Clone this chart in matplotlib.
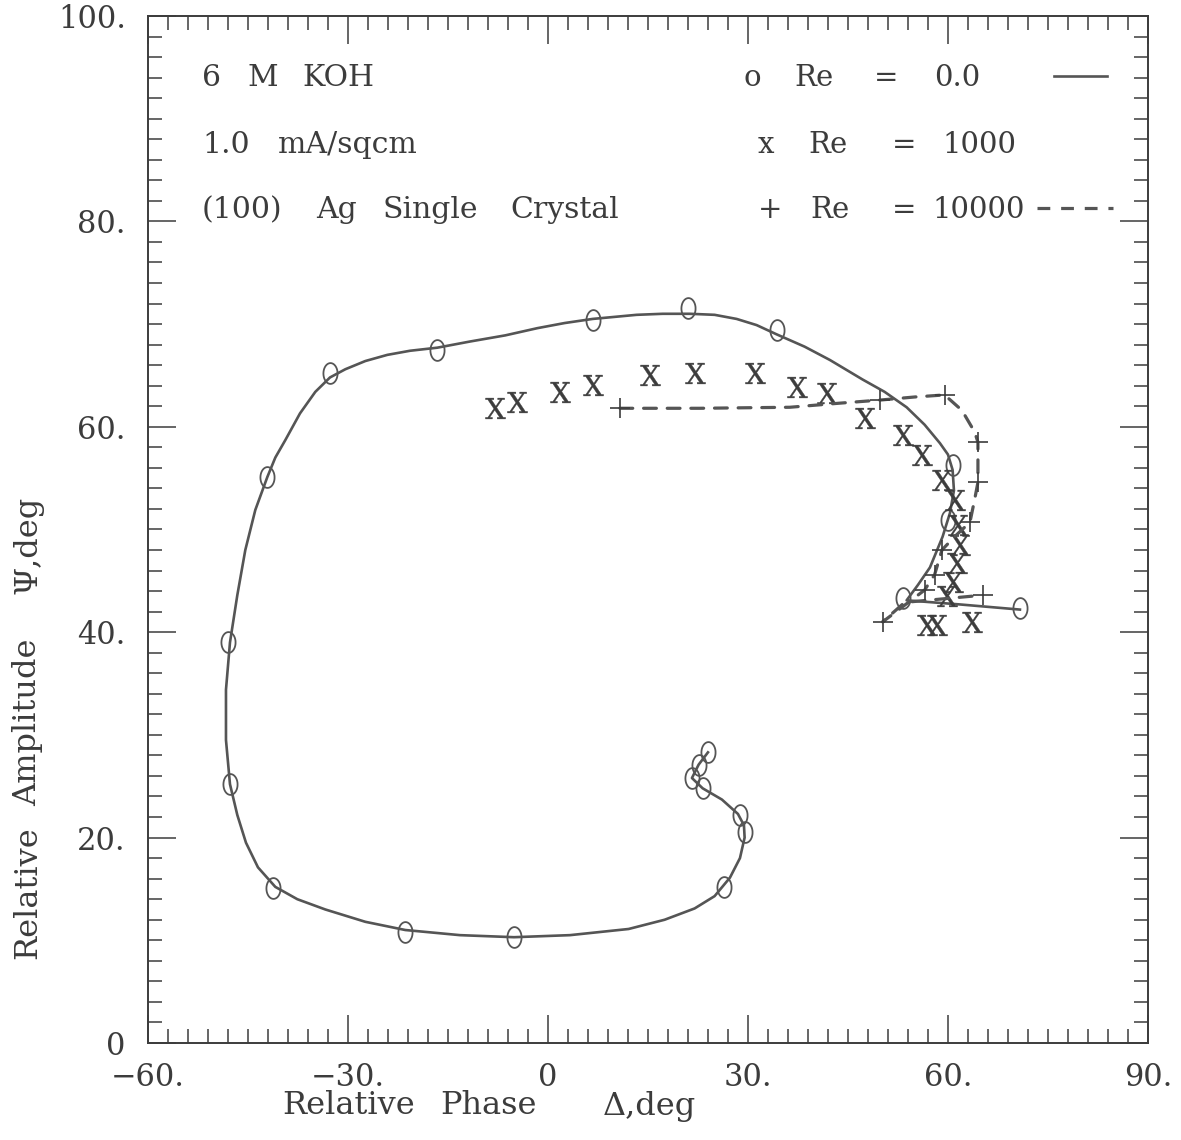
import numpy as np
import matplotlib
matplotlib.use("Agg")
import matplotlib.pyplot as plt
from matplotlib.lines import Line2D
from matplotlib.ticker import FixedLocator, FixedFormatter, MultipleLocator

# Re = 0.0 : smooth curve and the "o" points
re0_curve_x = [70.8, 61.8, 53.8, 55.5, 57.3, 59.2, 60.3, 60.9, 60.7, 60.0, 58.8, 56.5,
               53.8, 50.5, 47.2, 42.3, 38.5, 34.3, 31.3, 28.3, 25.0, 21.3, 17.2, 13.3,
               10.0, 6.7, 2.5, -1.6, -6.4, -11.7, -16.6, -20.7, -24.1, -27.4, -30.4,
               -32.7, -34.9, -37.2, -39.4, -40.9, -42.1, -43.9, -45.4, -46.6, -47.7,
               -48.3, -48.3, -47.7, -46.6, -45.3, -43.5, -40.9, -37.6, -33.4, -27.4,
               -21.4, -13.2, -5.1, 3.3, 12.1, 17.5, 22.0, 25.0, 27.3, 28.8, 29.5, 29.4,
               28.5, 26.1, 23.2, 21.6, 22.6, 24.0]
re0_curve_y = [42.2, 42.7, 43.1, 44.6, 46.3, 49.3, 51.6, 53.8, 55.8, 57.3, 58.4, 60.2,
               61.9, 63.4, 64.6, 66.5, 67.8, 69.0, 69.9, 70.5, 70.9, 71.0, 71.0, 70.9,
               70.7, 70.5, 70.1, 69.6, 68.9, 68.3, 67.7, 67.4, 67.0, 66.4, 65.6,
               64.8, 63.4, 61.3, 58.7, 57.0, 55.1, 51.9, 48.0, 43.6, 39.0,
               34.4, 29.5, 25.2, 22.2, 19.5, 17.1, 15.2, 14.0, 13.0, 11.8,
               11.0, 10.5, 10.3, 10.5, 11.1, 12.0, 13.1, 14.3, 16.1, 18.0, 20.0, 21.2,
               22.3, 23.7, 24.8, 25.8, 27.1, 28.3]
re0_pts_x = [70.8, 53.3, 60.0, 60.7, 34.3, 21.0, 6.7, -16.6, -32.7, -42.1, -48.0,
             -47.7, -41.2, -21.4, -5.1, 26.4, 29.5, 28.8, 23.2, 21.6, 22.6, 24.0]
re0_pts_y = [42.4, 43.3, 50.9, 56.3, 69.4, 71.6, 70.4, 67.5, 65.2, 55.1, 39.0,
             25.2, 15.1, 10.8, 10.3, 15.2, 20.5, 22.2, 24.8, 25.8, 27.1, 28.3]

# Re = 1000 : "x" points only
re1000_x = [-7.9, -4.6, 1.8, 6.7, 15.3, 22.0, 31.0, 37.3, 41.8, 47.5, 53.2, 56.1,
            59.1, 61.0, 61.5, 61.8, 61.3, 60.7, 59.8, 58.3, 56.8, 63.6]
re1000_y = [61.8, 62.4, 63.4, 64.1, 65.0, 65.2, 65.2, 63.9, 63.3, 60.9, 59.2, 57.3,
            54.8, 52.9, 50.4, 48.5, 46.7, 44.9, 43.5, 40.7, 40.7, 41.0]

# Re = 10000 : dashed curve and "+" points
re10000_curve_x = [10.8, 22.8, 36.3, 43.8, 49.8, 55.0, 59.5, 62.1, 64.0, 64.5, 64.5,
                   64.5, 64.0, 63.3, 61.0, 59.1, 58.0, 56.5, 50.2, 53.5, 65.2]
re10000_curve_y = [61.8, 61.8, 61.9, 62.3, 62.6, 62.9, 63.1, 61.6, 59.5, 58.5, 56.8,
                   54.6, 52.9, 50.7, 49.3, 48.0, 45.6, 44.1, 41.0, 42.9, 43.6]
re10000_pts_x = [10.8, 49.8, 59.5, 64.5, 64.5, 63.3, 59.1, 58.0, 56.5, 50.2, 65.2]
re10000_pts_y = [61.8, 62.6, 63.1, 58.5, 54.6, 50.7, 48.0, 45.6, 44.1, 41.0, 43.6]

xticks = [-60, -30, 0, 30, 60, 90]
xtick_labels = ["\u221260.", "\u221230.", "0", "30.", "60.", "90."]
yticks = [0, 20, 40, 60, 80, 100]
ytick_labels = ["0", "20.", "40.", "60.", "80.", "100."]

note_words = [["6", "M", "KOH"], ["1.0", "mA/sqcm"], ["(100)", "Ag", "Single", "Crystal"]]
legend_sym = ["o", "x", "+"]
legend_val = ["0.0", "1000", "10000"]
xlabel_words = ["Relative", "Phase", "\u0394,deg"]
ylabel_words = ["Relative", "Amplitude", "\u03a8,deg"]

ink = "#3c3c3c"
line_col = "#555555"
plt.rcParams["font.family"] = ["DejaVu Serif"]
plt.rcParams["mathtext.fontset"] = "dejavuserif"

fig = plt.figure(figsize=(11.81, 11.40), dpi=100)
ax = fig.add_axes([0.1253, 0.0851, 0.8467, 0.9009])

# tall open ellipse used as the "o" marker
t = np.linspace(0, 2 * np.pi, 41)
ellipse = np.column_stack([0.34 * np.cos(t), 0.5 * np.sin(t)])

ax.plot(re0_curve_x, re0_curve_y, color=line_col, lw=1.9, solid_joinstyle="round")
ax.plot(re0_pts_x, re0_pts_y, ls="none", marker=ellipse, ms=15, mfc="none",
        mec=line_col, mew=1.3)

ax.plot(re1000_x, re1000_y, ls="none", marker=r"$\mathrm{X}$", ms=15,
        color=ink, mew=0.3)

ax.plot(re10000_curve_x, re10000_curve_y, color=line_col, lw=2.3,
        dashes=(4.0, 3.4), dash_capstyle="round")
ax.plot(re10000_pts_x, re10000_pts_y, ls="none", marker="+", ms=15,
        color=ink, mew=1.2)

ax.set_xlim(-60, 90)
ax.set_ylim(0, 100)
ax.xaxis.set_major_locator(FixedLocator(xticks))
ax.xaxis.set_major_formatter(FixedFormatter(xtick_labels))
ax.xaxis.set_minor_locator(MultipleLocator(3))
ax.yaxis.set_major_locator(FixedLocator(yticks))
ax.yaxis.set_major_formatter(FixedFormatter(ytick_labels))
ax.yaxis.set_minor_locator(MultipleLocator(2))
ax.tick_params(which="both", direction="in", top=True, right=True,
               color=ink, width=1.1, labelsize=22, labelcolor=ink)
ax.tick_params(which="major", length=20)
ax.tick_params(which="minor", length=10)
ax.tick_params(axis="x", pad=14)
ax.tick_params(axis="y", pad=16)
for s in ax.spines.values():
    s.set_color(ink)
    s.set_linewidth(1.4)

# notes on the left, word by word
note_y = [94.0, 87.4, 81.1]
note_x = [[-51.9, -45.1, -36.9], [-51.9, -40.5], [-51.9, -34.8, -24.8, -5.7]]
for words, xs, yy in zip(note_words, note_x, note_y):
    for w, xx in zip(words, xs):
        ax.text(xx, yy, w, fontsize=21.5, color=ink, va="center", ha="left")

# legend text on the right
sym_x = [30.6, 32.7, 33.4]
re_x = [37.0, 39.0, 39.3]
eq_x = [50.8, 53.5, 53.5]
val_x = [58.0, 59.1, 57.6]
for i in range(3):
    yy = note_y[i]
    ax.text(sym_x[i], yy, legend_sym[i], fontsize=21, color=ink, va="center", ha="center")
    ax.text(re_x[i], yy, "Re", fontsize=21, color=ink, va="center", ha="left")
    ax.text(eq_x[i], yy, "=", fontsize=21, color=ink, va="center", ha="center")
    ax.text(val_x[i], yy, legend_val[i], fontsize=21, color=ink, va="center", ha="left")

# line keys: one small legend per key so each can have its own length
solid_key = ax.legend([Line2D([], [], color=line_col, lw=1.9)], ["\u00a0"],
                      loc="center left", bbox_to_anchor=(0.898, 0.94),
                      frameon=False, markerfirst=False, fontsize=19,
                      handlelength=2.0, handletextpad=0.0, borderpad=0.0,
                      borderaxespad=0.0)
ax.add_artist(solid_key)
ax.legend([Line2D([], [], color=line_col, lw=2.3, dashes=(4.0, 3.4))], ["\u00a0"],
          loc="center left", bbox_to_anchor=(0.881, 0.811),
          frameon=False, markerfirst=False, fontsize=19,
          handlelength=2.85, handletextpad=0.0, borderpad=0.0, borderaxespad=0.0)

# axis titles, word by word (pixel positions in the 1181x1140 figure)
for w, px in zip(xlabel_words, [282, 440, 603]):
    fig.text(px / 1181, 1 - 1106 / 1140, w, fontsize=23, color=ink,
             ha="left", va="center")
for w, py in zip(ylabel_words, [893, 722, 545]):
    fig.text(28 / 1181, 1 - py / 1140, w, fontsize=23, color=ink,
             ha="center", va="center", rotation=90)

fig.savefig("out.png", dpi=100, facecolor="white")
